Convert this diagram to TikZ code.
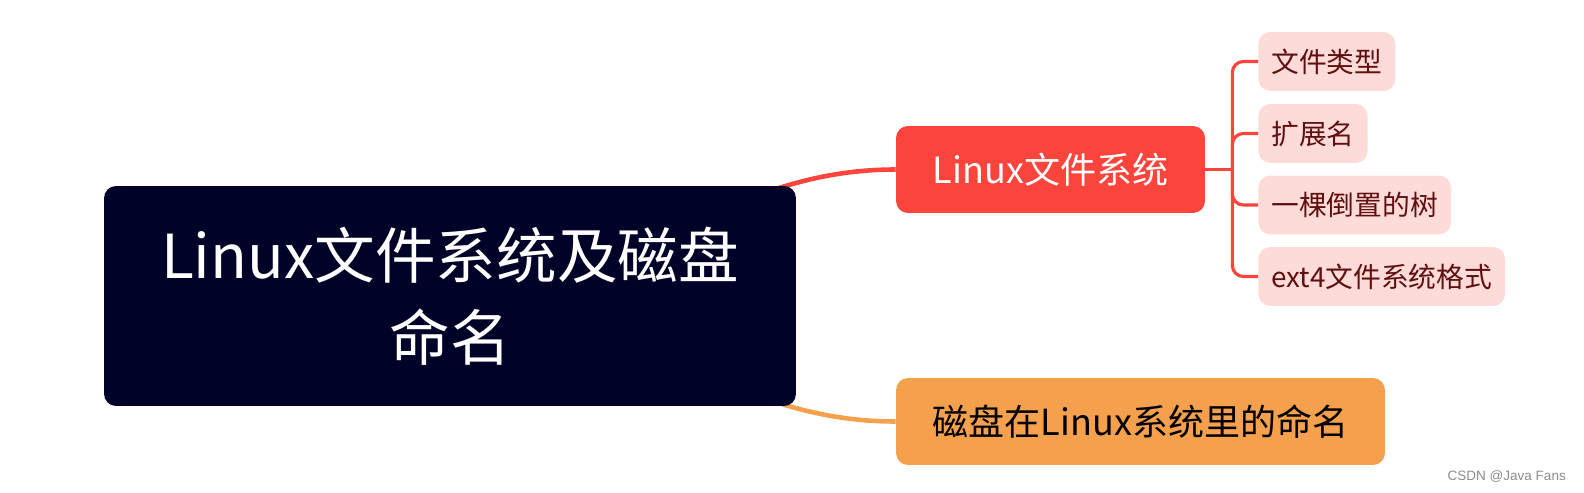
\documentclass[tikz,border=0pt]{standalone}
\usepackage{fontspec}
\setmainfont{Noto Sans CJK SC}
\newfontfamily\wmfont{Liberation Sans}
\usetikzlibrary{backgrounds}
\definecolor{rootbg}{RGB}{0,2,40}
\definecolor{fsred}{RGB}{250,68,60}
\definecolor{diskorange}{RGB}{245,160,77}
\definecolor{leafbg}{RGB}{253,219,216}
\definecolor{leaftext}{RGB}{96,16,16}
\tikzset{
        mmbox/.style={rounded corners=0.24cm,inner sep=0pt,align=center},
        rootbox/.style={mmbox,fill=rootbg,text=white,minimum width=13.84cm,minimum height=4.4cm,font=\fontsize{34.5}{47}\selectfont},
        subbox/.style={mmbox,minimum height=1.74cm,font=\fontsize{20.5}{24}\selectfont},
        leafbox/.style={mmbox,fill=leafbg,text=leaftext,anchor=west,minimum height=1.18cm,inner xsep=0.26cm,font=\fontsize{15.8}{19}\selectfont},
        link/.style={line width=2.6pt},
        twig/.style={draw=fsred,line width=1.8pt,rounded corners=0.22cm}
        }

\begin{document}
\begin{tikzpicture}[x=0.02cm,y=-0.02cm]
    % 画布大小,与原图一致
    \useasboundingbox (0,0) rectangle (1584,493);
    % 中心主题
    \node[rootbox] (root) at (450,296) {Linux文件系统及磁盘\\命名};
    % 两个分支主题
    \node[subbox,fill=fsred,text=white,minimum width=6.18cm] (fs) at (1050.5,169.5) {Linux文件系统};
    \node[subbox,fill=diskorange,text=black,minimum width=9.78cm] (disk) at (1140.5,421.5) {磁盘在Linux系统里的命名};

    % 中心主题到分支的曲线,放在背景层
    \begin{scope}[on background layer]
        \draw[link,fsred] (root.center) to[out=0,in=180] (fs.west);
        \draw[link,diskorange] (root.center) to[out=0,in=180] (disk.west);
    \end{scope}

    % 子主题
    \node[leafbox] (ftype) at (1258,61.5) {文件类型};
    \node[leafbox] (ext) at (1258,133.5) {扩展名};
    \node[leafbox] (tree) at (1258,205) {一棵倒置的树};
    \node[leafbox] (ext4) at (1258,276.5) {ext4文件系统格式};

    % 分支到子主题的折线,j 为分叉点
    \coordinate (j) at ([xshift=0.54cm]fs.east);
    \draw[twig] (fs.east) -- (j);
    \draw[twig] (j) |- (ftype.west);
    \draw[twig] (j) |- (ext.west);
    \draw[twig] (j) |- (tree.west);
    \draw[twig] (j) |- (ext4.west);

    % 水印
    \node[anchor=east,text=black!45,font=\wmfont\fontsize{7.7}{9}\selectfont] (wm) at (1572,477) {CSDN @Java Fans};
\end{tikzpicture}
\end{document}
